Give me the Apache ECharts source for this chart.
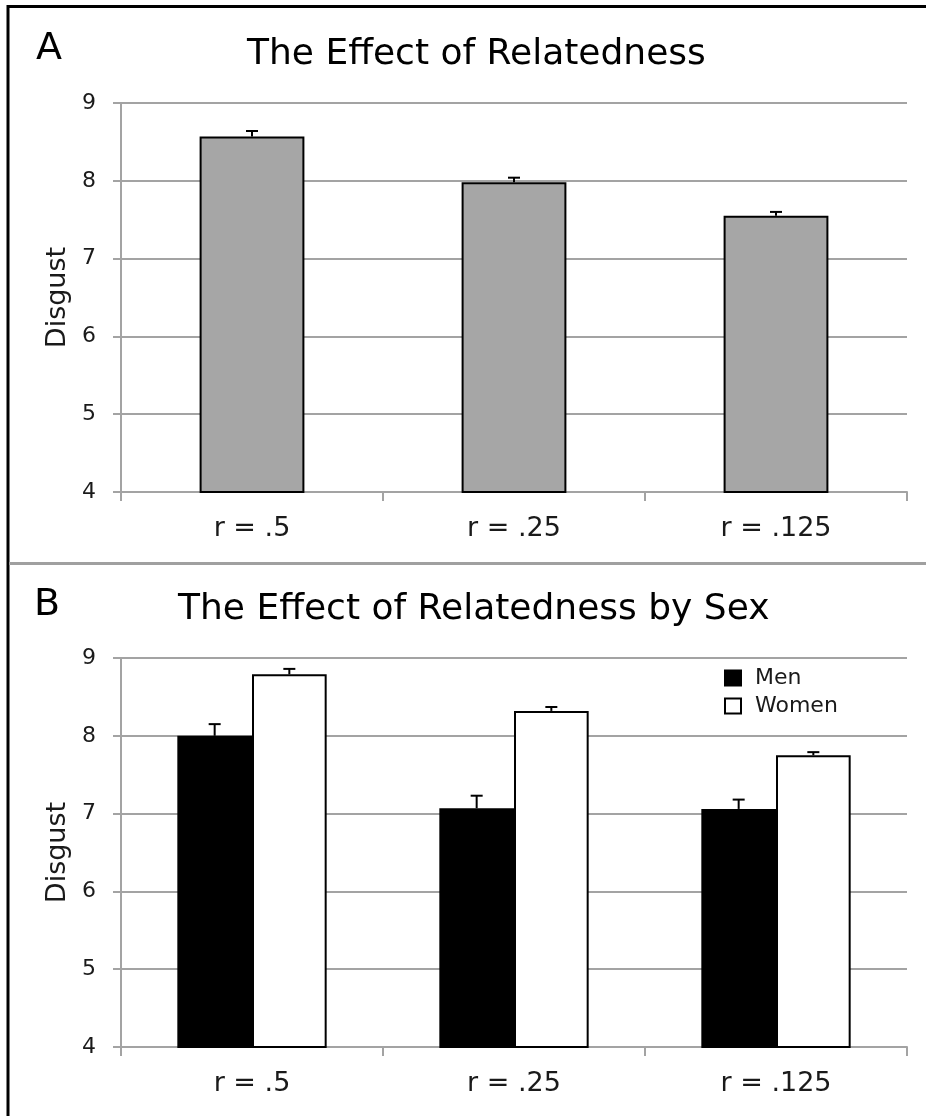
<!DOCTYPE html>
<html>
<head>
<meta charset="utf-8">
<script src="https://cdn.jsdelivr.net/npm/echarts@6/dist/echarts.min.js"></script>
<style>
  html, body { margin: 0; padding: 0; background: #fff; }
  #chart { width: 926px; height: 1116px; }
</style>
</head>
<body>
<div id="chart"></div>
<script>
// categories and values
const categories = ['r = .5', 'r = .25', 'r = .125'];
const yTicks = [4, 5, 6, 7, 8, 9];

// panel A: all participants
const allMeans = [8.57, 7.98, 7.55];
const allErrors = [0.07, 0.06, 0.05];

// panel B: by sex
const menMeans = [8.00, 7.07, 7.06];
const menErrors = [0.15, 0.16, 0.12];
const womenMeans = [8.79, 8.32, 7.75];
const womenErrors = [0.07, 0.05, 0.04];

const FONT = 'DejaVu Sans';
const GRAY = '#a3a3a3';
const TEXT = '#1a1a1a';

function xAxisFor(gridIndex) {
  return {
    type: 'category',
    gridIndex: gridIndex,
    data: categories,
    axisLine: { lineStyle: { color: GRAY, width: 2 } },
    axisTick: { show: true, length: 9, lineStyle: { color: GRAY, width: 2 } },
    axisLabel: { margin: 23, fontSize: 27, color: TEXT, fontFamily: FONT }
  };
}

function yAxisFor(gridIndex) {
  return {
    type: 'value',
    gridIndex: gridIndex,
    min: yTicks[0],
    max: yTicks[yTicks.length - 1],
    interval: 1,
    name: 'Disgust',
    nameLocation: 'middle',
    nameGap: 47,
    nameTextStyle: { fontSize: 27, color: TEXT, fontFamily: FONT },
    axisLine: { show: true, lineStyle: { color: GRAY, width: 2 } },
    axisTick: { show: true, length: 8, lineStyle: { color: GRAY, width: 2 } },
    axisLabel: { margin: 25, fontSize: 22, color: TEXT, fontFamily: FONT },
    splitLine: { show: true, lineStyle: { color: GRAY, width: 2 } }
  };
}

// upper whisker only, like the original
function errorSeries(axisIndex, means, errors, shift) {
  return {
    type: 'custom',
    xAxisIndex: axisIndex,
    yAxisIndex: axisIndex,
    z: 5,
    silent: true,
    data: means.map(function (m, i) { return [i, m, m + errors[i]]; }),
    renderItem: function (params, api) {
      const band = api.size([1, 0])[0];
      const base = api.coord([api.value(0), api.value(1)]);
      const top = api.coord([api.value(0), api.value(2)]);
      const x = base[0] + shift * band;
      return {
        type: 'group',
        children: [
          { type: 'line', shape: { x1: x, y1: base[1], x2: x, y2: top[1] },
            style: { stroke: '#000', lineWidth: 2 } },
          { type: 'line', shape: { x1: x - 6, y1: top[1], x2: x + 6, y2: top[1] },
            style: { stroke: '#000', lineWidth: 2 } }
        ]
      };
    }
  };
}

const option = {
  animation: false,
  backgroundColor: '#fff',
  textStyle: { fontFamily: FONT },
  title: [
    { text: 'A', left: 31, top: 25, textStyle: { fontSize: 38, fontWeight: 'normal', color: '#000', fontFamily: FONT } },
    { text: 'The Effect of Relatedness', left: 242, top: 32, textStyle: { fontSize: 36, fontWeight: 'normal', color: '#000', fontFamily: FONT } },
    { text: 'B', left: 29, top: 581, textStyle: { fontSize: 38, fontWeight: 'normal', color: '#000', fontFamily: FONT } },
    { text: 'The Effect of Relatedness by Sex', left: 173, top: 587, textStyle: { fontSize: 36, fontWeight: 'normal', color: '#000', fontFamily: FONT } }
  ],
  legend: {
    orient: 'vertical',
    left: 719,
    top: 662,
    icon: 'rect',
    itemWidth: 16,
    itemHeight: 15,
    itemGap: 6,
    textStyle: { fontSize: 22, color: TEXT, fontFamily: FONT, padding: [0, 0, 0, 9] },
    data: ['Men', 'Women']
  },
  grid: [
    { left: 121, top: 103, width: 786, height: 389 },
    { left: 121, top: 658, width: 786, height: 389 }
  ],
  xAxis: [xAxisFor(0), xAxisFor(1)],
  yAxis: [yAxisFor(0), yAxisFor(1)],
  series: [
    {
      name: 'All',
      type: 'bar',
      xAxisIndex: 0,
      yAxisIndex: 0,
      barCategoryGap: '60%',
      data: allMeans,
      itemStyle: { color: '#a6a6a6', borderColor: '#000', borderWidth: 2 }
    },
    {
      name: 'Men',
      type: 'bar',
      xAxisIndex: 1,
      yAxisIndex: 1,
      barGap: '0%',
      barCategoryGap: '43%',
      data: menMeans,
      itemStyle: { color: '#000', borderColor: '#000', borderWidth: 2 }
    },
    {
      name: 'Women',
      type: 'bar',
      xAxisIndex: 1,
      yAxisIndex: 1,
      barGap: '0%',
      barCategoryGap: '43%',
      data: womenMeans,
      itemStyle: { color: '#fff', borderColor: '#000', borderWidth: 2 }
    },
    errorSeries(0, allMeans, allErrors, 0),
    errorSeries(1, menMeans, menErrors, -0.1425),
    errorSeries(1, womenMeans, womenErrors, 0.1425)
  ],
  graphic: [
    // frame: top and left edges, plus the divider between panels
    { type: 'line', shape: { x1: 7, y1: 6.5, x2: 926, y2: 6.5 }, style: { stroke: '#000', lineWidth: 3 } },
    { type: 'line', shape: { x1: 8, y1: 5, x2: 8, y2: 1116 }, style: { stroke: '#000', lineWidth: 3 } },
    { type: 'line', shape: { x1: 9, y1: 563.5, x2: 926, y2: 563.5 }, style: { stroke: '#a0a0a0', lineWidth: 3 } }
  ]
};

const myChart = echarts.init(document.getElementById('chart'));
myChart.setOption(option);
</script>
</body>
</html>
